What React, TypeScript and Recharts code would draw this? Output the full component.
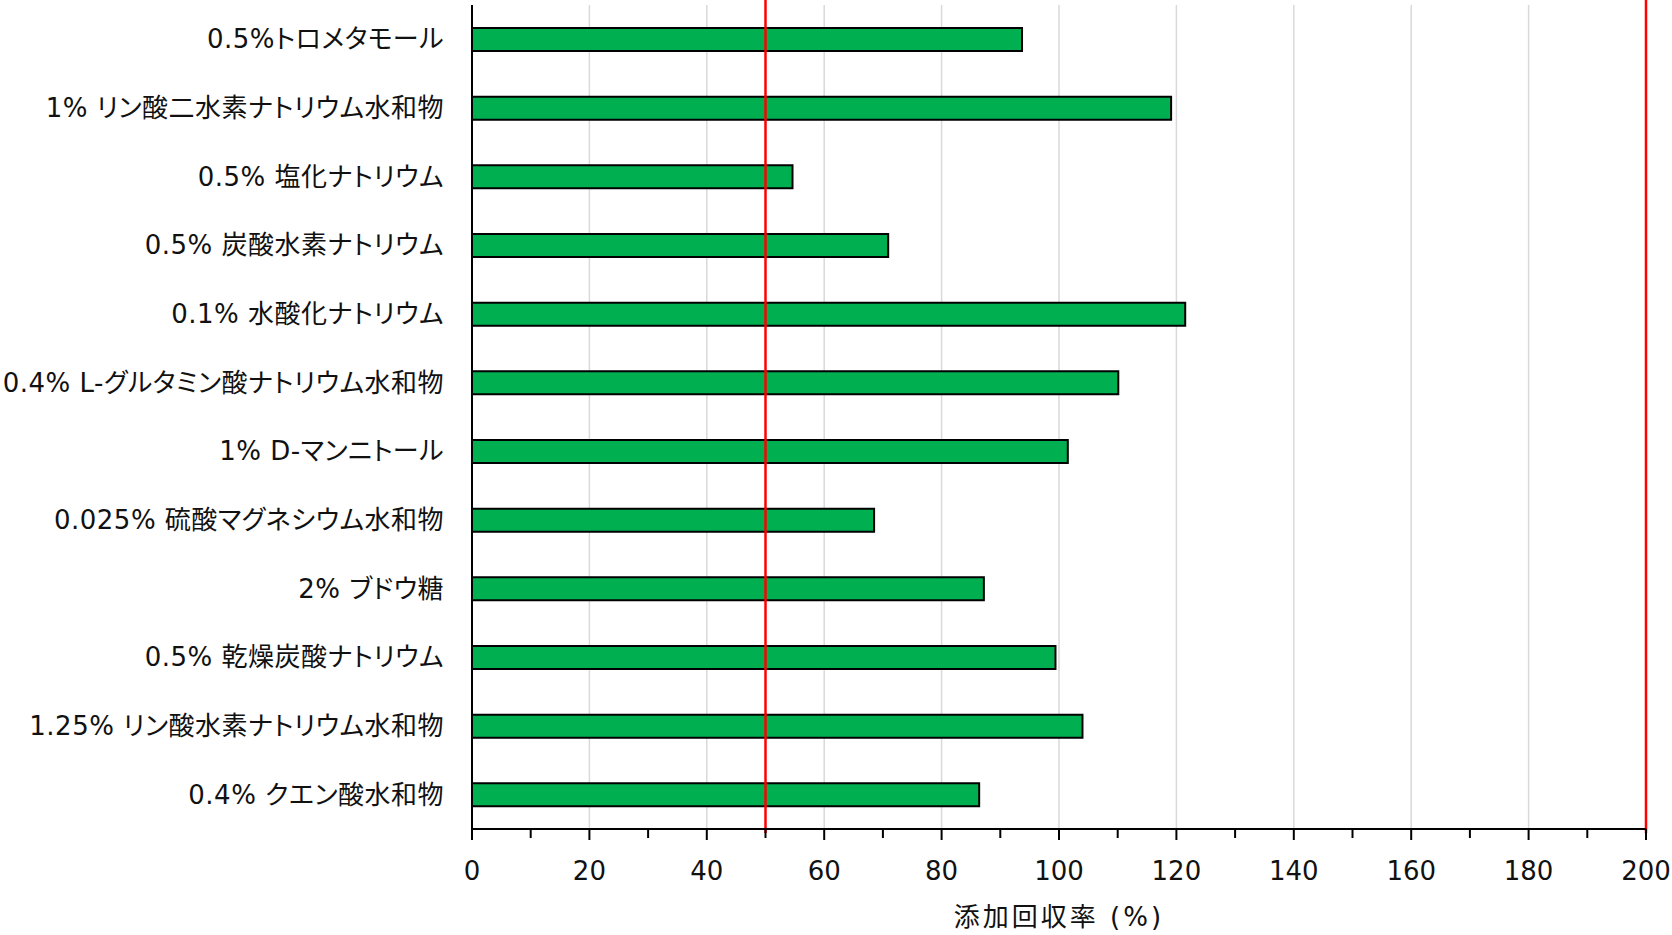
import { BarChart, Bar, XAxis, YAxis, CartesianGrid, ReferenceLine } from "recharts";

const categories = [
  "0.5%トロメタモール",
  "1% リン酸二水素ナトリウム水和物",
  "0.5% 塩化ナトリウム",
  "0.5% 炭酸水素ナトリウム",
  "0.1% 水酸化ナトリウム",
  "0.4% L-グルタミン酸ナトリウム水和物",
  "1% D-マンニトール",
  "0.025% 硫酸マグネシウム水和物",
  "2% ブドウ糖",
  "0.5% 乾燥炭酸ナトリウム",
  "1.25% リン酸水素ナトリウム水和物",
  "0.4% クエン酸水和物",
];
const recovery = [93.7, 119.1, 54.6, 70.9, 121.5, 110.1, 101.5, 68.5, 87.2, 99.4, 104.0, 86.4];
const xTicks = [0, 10, 20, 30, 40, 50, 60, 70, 80, 90, 100, 110, 120, 130, 140, 150, 160, 170, 180, 190, 200];
const gridValues = [20, 40, 60, 80, 100, 120, 140, 160, 180, 200];
const limits = [50, 200];
const axisTitle = "添加回収率 (%)";

const FONT = "'DejaVu Sans', 'Noto Sans CJK JP', sans-serif";
const TEXT = "#111111";
const W = 1672;
const H = 935;
const PLOT_TOP = 5;
const X_AXIS_H = 106;
const PLOT_BOTTOM = H - X_AXIS_H;

const labelStyle = { fontFeatureSettings: '"palt"', letterSpacing: "0.5px" };
const titleStyle = { letterSpacing: "3px" };

const data = categories.map((name, i) => ({ name, value: recovery[i] }));

function XTick(props: any) {
  const { x, y, payload } = props;
  const v = payload.value;
  const major = v % 20 === 0;
  return (
    <g>
      <line x1={x} x2={x} y1={y} y2={y + (major ? 11 : 9)} stroke="#000" strokeWidth={2} />
      {major && (
        <text x={x} y={y + 51} textAnchor="middle" fontSize={26} fill={TEXT} fontFamily={FONT}>
          {v}
        </text>
      )}
    </g>
  );
}

function YTick(props: any) {
  const { x, y, payload } = props;
  return (
    <text x={x} y={y + 9} textAnchor="end" fontSize={26} fill={TEXT} fontFamily={FONT} style={labelStyle}>
      {payload.value}
    </text>
  );
}

function RedLine(props: any) {
  const { x1, x2 } = props;
  return <line x1={x1} x2={x2} y1={0} y2={PLOT_BOTTOM + 4} stroke="#ff0000" strokeWidth={2.5} />;
}

function AxisTitle(props: any) {
  const { viewBox } = props;
  const cx = viewBox.x + viewBox.width / 2;
  return (
    <text x={cx} y={H - 9} textAnchor="middle" fontSize={26} fill={TEXT} fontFamily={FONT} style={titleStyle}>
      {axisTitle}
    </text>
  );
}

export default function App() {
  return (
    <div style={{ position: "absolute", left: 0, top: 0, width: W, height: H, background: "#fff", fontFamily: FONT }}>
      <BarChart
        width={W}
        height={H}
        data={data}
        layout="vertical"
        margin={{ top: PLOT_TOP, right: 26, bottom: 0, left: 0 }}
        barCategoryGap={0}
      >
        <CartesianGrid horizontal={false} verticalValues={gridValues} stroke="#d9d9d9" strokeWidth={1.5} />
        <XAxis
          type="number"
          domain={[0, 200]}
          ticks={xTicks}
          interval={0}
          height={X_AXIS_H}
          tickSize={0}
          tickMargin={0}
          tickLine={false}
          axisLine={{ stroke: "#000", strokeWidth: 2 }}
          tick={<XTick />}
          label={<AxisTitle />}
        />
        <YAxis
          type="category"
          dataKey="name"
          width={472}
          interval={0}
          tickSize={0}
          tickMargin={28}
          tickLine={false}
          axisLine={{ stroke: "#000", strokeWidth: 2 }}
          tick={<YTick />}
        />
        <Bar dataKey="value" fill="#00b050" stroke="#000" strokeWidth={2} barSize={23} isAnimationActive={false} />
        {limits.map((v) => (
          <ReferenceLine key={v} x={v} shape={<RedLine />} />
        ))}
      </BarChart>
    </div>
  );
}
